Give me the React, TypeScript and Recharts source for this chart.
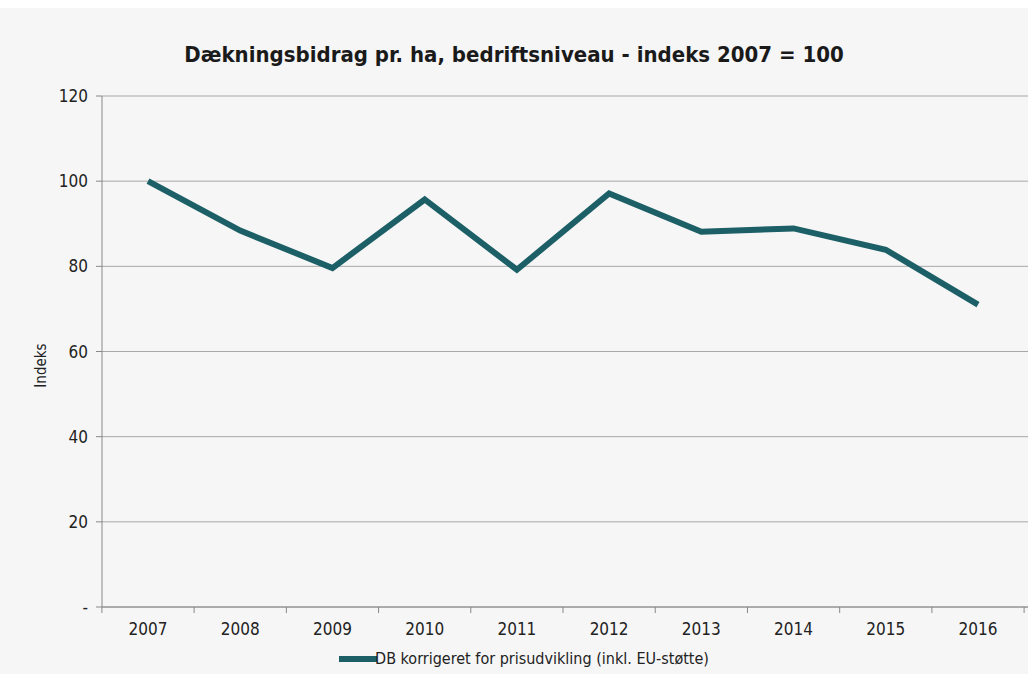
import { LineChart, Line, XAxis, YAxis, CartesianGrid, Legend } from 'recharts'

const years = ['2007', '2008', '2009', '2010', '2011', '2012', '2013', '2014', '2015', '2016']
const dbIndex = [100, 88.4, 79.6, 95.7, 79.2, 97.1, 88.1, 88.9, 83.9, 71.0]
const yTicks = [0, 20, 40, 60, 80, 100, 120]

const seriesName = 'DB korrigeret for prisudvikling (inkl. EU-støtte)'
const title = 'Dækningsbidrag pr. ha, bedriftsniveau - indeks 2007 = 100'

const font = '"Liberation Sans Narrow", "DejaVu Sans Condensed", sans-serif'
const lineColor = '#1c5f66'
const halfStep = 46.1

const chartData = years.map((year, i) => ({ year, value: dbIndex[i] }))

// year label centred under the point, tick marks on the category boundaries
function YearTick(props: any) {
  const { x, y, payload, index } = props
  const axisY = y - 16
  return (
    <g>
      <line x1={x - halfStep} y1={axisY} x2={x - halfStep} y2={axisY + 6} stroke="#888" />
      {index === years.length - 1 && (
        <line x1={x + halfStep} y1={axisY} x2={x + halfStep} y2={axisY + 6} stroke="#888" />
      )}
      <text x={x} y={y} dy="0.71em" textAnchor="middle" fill="#222" fontFamily={font} fontSize={17}>
        {payload.value}
      </text>
    </g>
  )
}

function renderLegend(props: any) {
  const item = props.payload && props.payload[0]
  return (
    <div style={{ display: 'flex', justifyContent: 'center', alignItems: 'center', paddingTop: 10, paddingLeft: 20, fontFamily: font, fontSize: 16, color: '#222' }}>
      <svg width={38} height={10} style={{ marginRight: -2 }}>
        <line x1={0} y1={5} x2={38} y2={5} stroke={item ? item.color : lineColor} strokeWidth={6} />
      </svg>
      <span>{item ? item.value : seriesName}</span>
    </div>
  )
}

export default function App() {
  return (
    <div style={{ position: 'absolute', left: 0, top: 0, width: 1028, height: 674, background: '#fff' }}>
      <div style={{ position: 'absolute', left: 0, top: 8, width: 1028, height: 666, background: '#f6f6f6' }}>
        <LineChart width={1028} height={666} data={chartData} margin={{ top: 88, right: 0, left: 0, bottom: 7 }}>
          <CartesianGrid vertical={false} stroke="#a8a8a8" />
          <XAxis
            dataKey="year"
            padding={{ left: 46, right: 50 }}
            axisLine={{ stroke: '#888' }}
            tickLine={false}
            tick={<YearTick />}
            tickMargin={10}
            height={32}
            interval={0}
          />
          <YAxis
            domain={[0, 120]}
            ticks={yTicks}
            width={102}
            axisLine={{ stroke: '#888' }}
            tickLine={{ stroke: '#888' }}
            tickSize={6}
            tickMargin={8}
            tick={{ fill: '#222', fontFamily: font, fontSize: 17 }}
            tickFormatter={(v: number) => (v === 0 ? '-' : String(v))}
            label={{ value: 'Indeks', angle: -90, position: 'insideLeft', offset: 41, dy: 14, style: { fill: '#222', fontFamily: font, fontSize: 15, textAnchor: 'middle' } }}
          />
          <Legend verticalAlign="bottom" height={28} content={renderLegend} />
          <Line
            type="linear"
            dataKey="value"
            name={seriesName}
            stroke={lineColor}
            strokeWidth={6}
            dot={false}
            activeDot={false}
            isAnimationActive={false}
          />
        </LineChart>
        <div style={{ position: 'absolute', left: 0, top: 34, width: 1028, textAlign: 'center', fontFamily: font, fontWeight: 'bold', fontSize: 22, color: '#1a1a1a' }}>
          {title}
        </div>
      </div>
    </div>
  )
}
